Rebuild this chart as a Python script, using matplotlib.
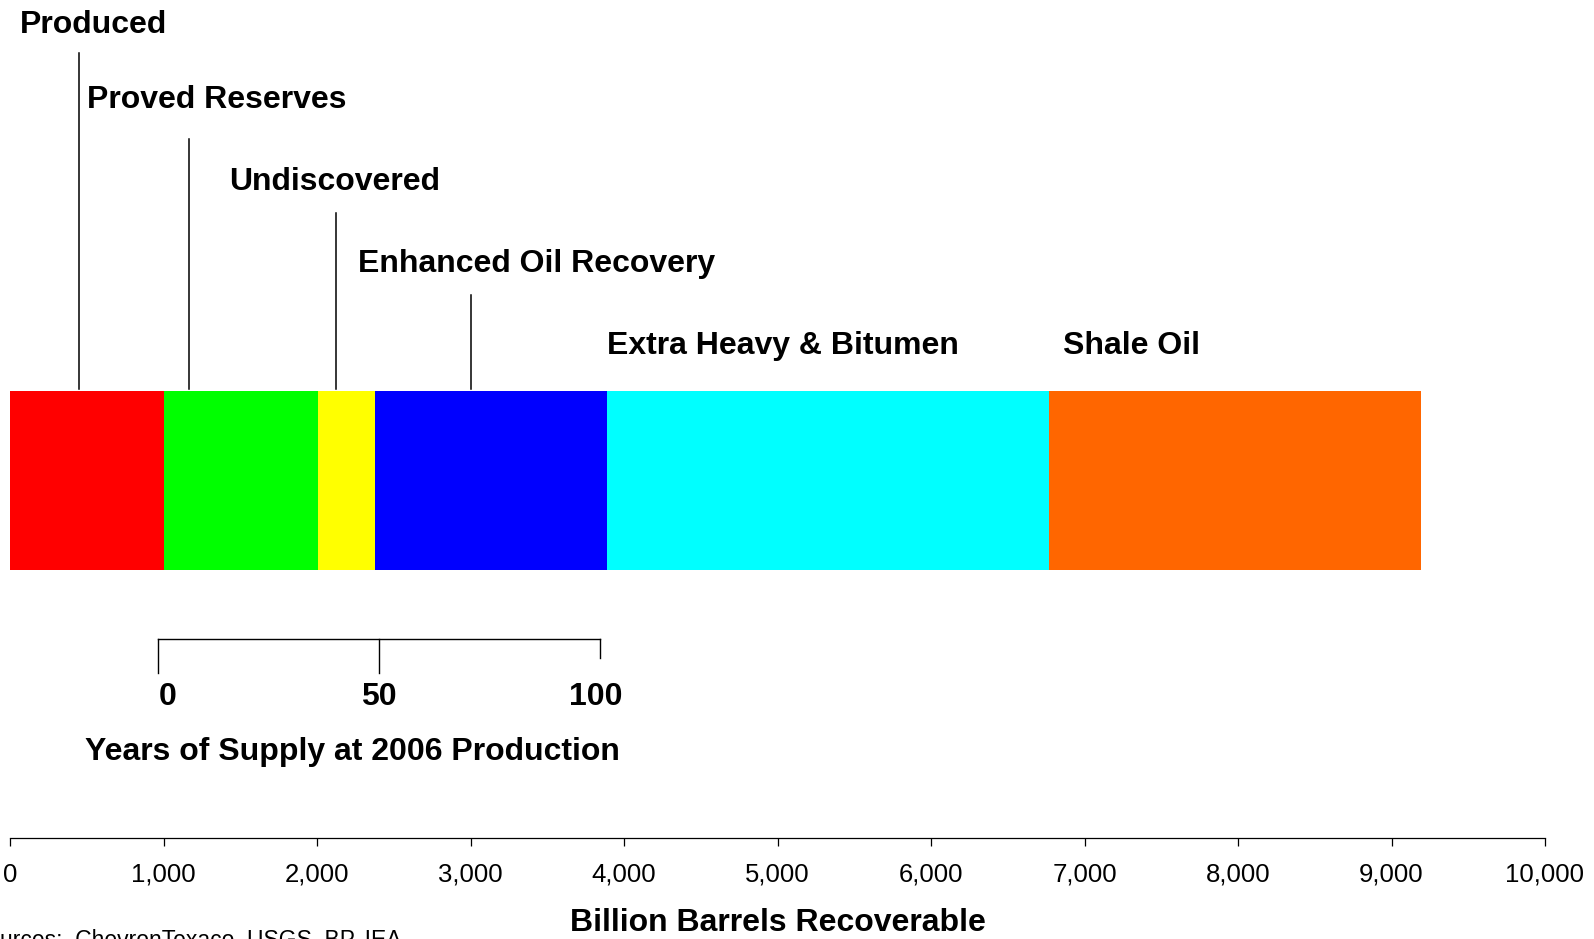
import matplotlib

matplotlib.use("Agg")
import matplotlib.pyplot as plt
from matplotlib.ticker import FuncFormatter

plt.rcParams["font.family"] = ["Liberation Sans", "DejaVu Sans"]

# data: billion barrels recoverable by category
categories = [
    "Produced",
    "Proved Reserves",
    "Undiscovered",
    "Enhanced Oil Recovery",
    "Extra Heavy & Bitumen",
    "Shale Oil",
]
volumes = [1000, 1007, 371, 1510, 2881, 2424]
colors = ["#FF0000", "#00FF00", "#FFFF00", "#0000FF", "#00FFFF", "#FF6600"]

axis_ticks = list(range(0, 10001, 1000))
year_ticks = [0, 50, 100]
years_origin_bbl = 960
bbl_per_year = 28.8

# where each label's leader line hits the bar (None = no line)
leader_x = [450, 1165, 2126, 3000, None, None]

# layout in pixel-ish units (figure is 1594 x 939)
W, H = 1594, 939
px0, px10k = 10.2, 1545.0
scale = (px10k - px0) / 10000.0


def px_to_data(px):
    return (px - px0) / scale


label_px = [(20.3, 25.4), (87.4, 99.6), (228.7, 182.0), (357.8, 264.0), (606.9, 345.6), (1063.4, 345.6)]
line_top = [53, 139, 212.5, 295, None, None]
bar_top, bar_bottom = 391.0, 570.3
BOLD = 23

fig = plt.figure(figsize=(W / 100, H / 100), dpi=100)
fig.patch.set_facecolor("white")
ax = fig.add_axes([0, 0, 1, 1])
ax.set_xlim(px_to_data(0), px_to_data(W))
ax.set_ylim(H, 0)

# stacked horizontal bar
left = 0
for vol, col in zip(volumes, colors):
    ax.barh((bar_top + bar_bottom) / 2, vol, left=left, height=bar_bottom - bar_top, color=col, linewidth=0)
    left += vol

# labels and leader lines
for name, (lx, ly), lxd, ltop in zip(categories, label_px, leader_x, line_top):
    ax.text(px_to_data(lx), ly, name, fontsize=BOLD, fontweight="bold", ha="left", va="center")
    if lxd is not None:
        ax.plot([lxd, lxd], [ltop, bar_top - 2], color="black", linewidth=1.1)

# years of supply bracket
yx = [years_origin_bbl + y * bbl_per_year for y in year_ticks]
bracket_y = 639.4
ax.plot([yx[0], yx[-1]], [bracket_y, bracket_y], color="black", linewidth=1.0)
tick_ends = [673, 673, 658]
label_shift = [10, 0, -4]
for x, yv, te, sh in zip(yx, year_ticks, tick_ends, label_shift):
    ax.plot([x, x], [bracket_y, te], color="black", linewidth=1.0)
    ax.text(x + sh / scale, 697, str(yv), fontsize=BOLD, fontweight="bold", ha="center", va="center")
ax.text(px_to_data(352.8), 752, "Years of Supply at 2006 Production", fontsize=BOLD, fontweight="bold",
        ha="center", va="center")

# bottom axis
for side in ["top", "left", "right"]:
    ax.spines[side].set_visible(False)
ax.spines["bottom"].set_position(("data", 837.7))
ax.spines["bottom"].set_bounds(0, 10000)
ax.spines["bottom"].set_linewidth(0.9)
ax.set_yticks([])
ax.set_xticks(axis_ticks)
ax.xaxis.set_major_formatter(FuncFormatter(lambda v, _: f"{int(v):,}"))
ax.tick_params(axis="x", direction="out", length=6, width=0.9, pad=12, labelsize=18.5)

ax.text(px_to_data(777.7), 923, "Billion Barrels Recoverable", fontsize=BOLD, fontweight="bold",
        ha="center", va="center")
ax.text(px_to_data(-28), 947, "Sources:  ChevronTexaco, USGS, BP, IEA", fontsize=16.5, ha="left", va="baseline")

fig.savefig("out.png", dpi=100, facecolor="white")
